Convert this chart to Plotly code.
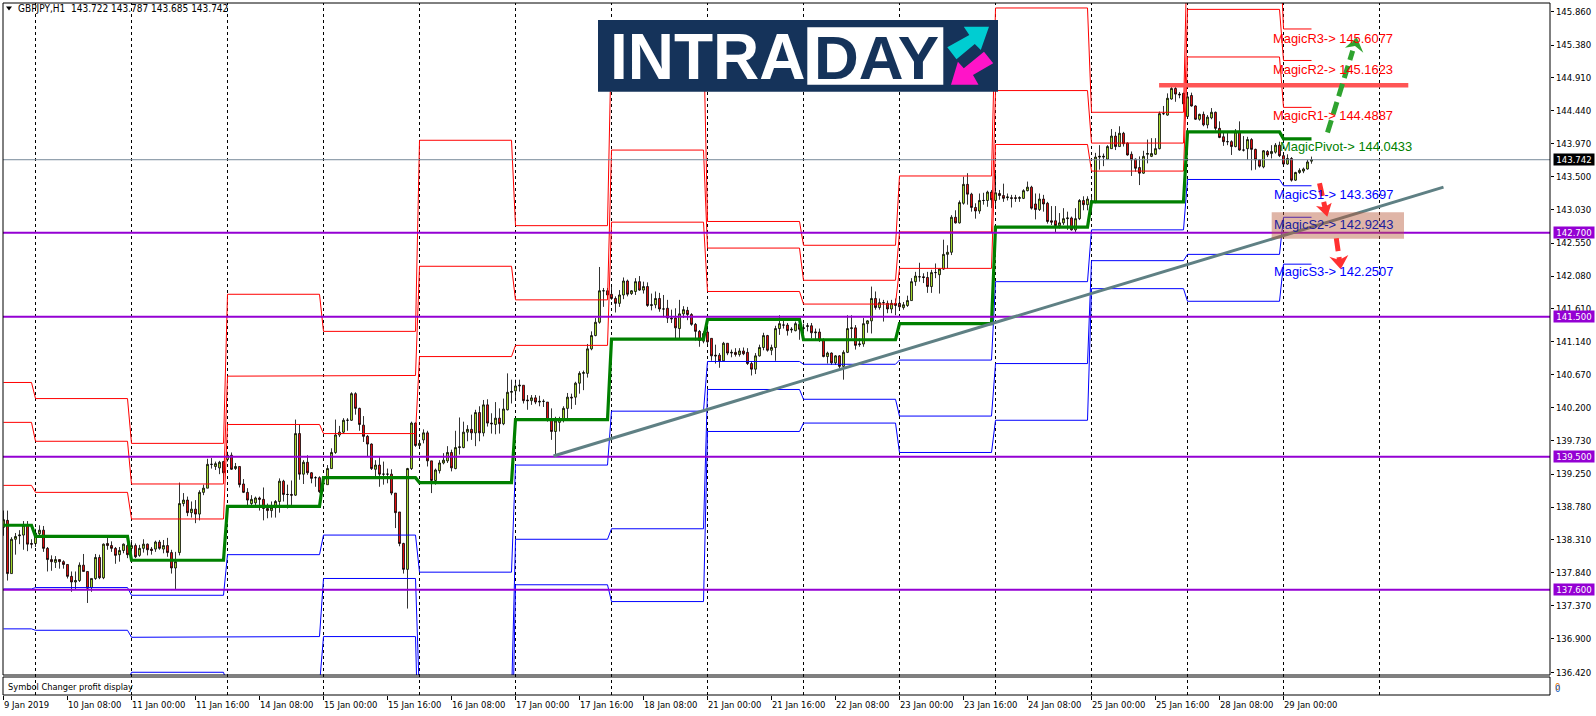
import plotly.graph_objects as go

opens = [138.49,138.59,137.83,138.32,138.37,138.38,138.52,138.26,138.26,138.40,
138.45,138.19,138.03,137.99,138.03,138.00,137.96,137.79,137.71,137.73,
137.95,137.86,137.63,137.76,138.06,137.77,138.26,138.23,138.19,138.10,
138.16,138.23,138.19,138.23,138.09,138.19,138.25,138.18,138.18,138.28,
138.18,138.23,138.13,137.91,138.13,138.83,138.88,138.70,138.75,138.68,
138.99,139.05,139.39,139.36,139.34,139.43,139.46,139.52,139.33,139.36,
139.11,138.99,138.83,138.84,138.91,138.89,138.76,138.73,138.77,138.86,
139.15,138.96,138.96,138.95,139.83,139.25,139.42,139.27,139.20,139.20,
139.11,139.10,139.33,139.56,139.81,139.85,140.02,140.02,140.40,140.19,
139.95,139.79,139.68,139.32,139.38,139.25,139.25,139.25,138.98,138.71,
138.26,137.89,139.33,139.98,139.66,139.74,139.84,139.44,139.16,139.30,
139.41,139.44,139.56,139.33,139.63,139.63,139.85,139.89,139.84,140.13,
139.84,140.24,139.98,139.96,140.05,139.97,140.17,140.42,140.44,140.51,
140.52,140.31,140.30,140.34,140.28,140.29,140.28,140.02,139.86,139.99,
140.02,140.19,140.35,140.35,140.55,140.69,140.69,141.04,141.23,141.42,
141.87,141.87,141.82,141.76,141.69,141.81,142.01,141.83,141.86,142.00,
141.88,141.93,141.66,141.67,141.76,141.61,141.62,141.48,141.48,141.33,
141.54,141.59,141.53,141.39,141.29,141.15,141.28,141.19,140.95,140.95,
140.87,141.12,140.98,140.99,140.96,141.01,140.99,140.83,140.75,140.94,
141.06,141.23,141.02,141.06,141.33,141.38,141.38,141.31,141.30,141.39,
141.33,141.36,141.37,141.27,141.28,141.16,140.93,140.98,140.84,140.94,
140.79,140.99,141.33,141.34,141.10,141.11,141.40,141.44,141.76,141.63,
141.70,141.69,141.61,141.69,141.69,141.63,141.66,141.73,142.00,142.07,
142.07,142.06,141.93,142.13,142.10,142.18,142.39,142.42,142.92,142.84,
143.12,143.39,143.25,143.06,143.01,143.16,143.16,143.28,143.16,143.26,
143.23,143.20,143.20,143.20,143.19,143.19,143.30,143.35,143.11,143.03,
143.18,143.12,142.87,142.87,142.80,142.84,142.90,142.91,142.74,142.90,
143.16,143.10,143.15,143.15,143.78,143.78,143.75,143.90,144.08,143.93,
144.12,143.98,143.82,143.75,143.63,143.55,143.82,143.79,143.82,143.90,
144.40,144.38,144.61,144.76,144.68,144.69,144.36,144.66,144.51,144.32,
144.39,144.24,144.34,144.42,144.19,144.07,144.00,144.00,143.93,144.14,
143.88,143.90,144.03,143.89,143.74,143.64,143.86,143.83,143.85,143.95,
143.80,143.68,143.76,143.45,143.56,143.58,143.61,143.722]

highs = [138.73,138.73,138.35,138.41,138.45,138.58,138.58,138.32,138.47,138.52,
138.51,138.21,138.09,138.08,138.03,138.02,137.96,137.86,137.86,137.99,
138.11,137.86,137.76,138.11,138.10,138.26,138.34,138.29,138.21,138.21,
138.26,138.26,138.31,138.26,138.24,138.32,138.26,138.21,138.30,138.31,
138.31,138.34,138.17,138.14,139.13,138.98,138.93,138.86,138.88,139.02,
139.10,139.47,139.48,139.43,139.44,139.44,139.57,139.56,139.41,139.36,
139.18,139.05,138.95,138.93,138.93,139.06,138.83,138.86,138.88,139.19,
139.17,139.10,139.16,140.03,139.96,139.45,139.52,139.28,139.22,139.22,
139.22,139.38,139.62,140.03,139.94,140.05,140.05,140.42,140.42,140.20,
140.08,139.81,139.69,139.45,139.49,139.43,139.33,139.32,138.98,138.71,
138.27,139.34,140.00,139.99,139.74,139.89,139.87,139.44,139.33,139.45,
139.55,139.65,139.60,139.87,140.06,140.00,139.95,140.10,140.17,140.22,
140.31,140.32,140.12,140.28,140.19,140.33,140.69,140.60,140.60,140.60,
140.52,140.38,140.38,140.38,140.37,140.32,140.28,140.19,140.07,140.07,
140.22,140.41,140.40,140.57,140.72,140.73,141.11,141.29,141.48,142.21,
141.91,141.91,141.93,141.79,141.88,142.06,142.03,141.88,142.05,142.08,
142.00,141.99,141.83,141.86,141.84,141.81,141.74,141.60,141.62,141.74,
141.65,141.64,141.55,141.41,141.31,141.29,141.36,141.19,141.10,140.98,
141.14,141.12,141.03,141.05,141.05,141.06,141.05,140.86,140.98,141.10,
141.27,141.24,141.10,141.37,141.52,141.45,141.41,141.35,141.43,141.43,
141.40,141.41,141.41,141.33,141.33,141.19,141.00,140.99,140.95,140.95,
141.02,141.52,141.52,141.38,141.19,141.48,141.45,141.93,141.86,141.76,
141.74,141.73,141.74,141.76,141.79,141.71,141.80,142.05,142.14,142.27,
142.12,142.14,142.17,142.26,142.19,142.60,142.52,142.95,143.02,143.16,
143.50,143.55,143.27,143.12,143.26,143.27,143.30,143.31,143.55,143.31,
143.40,143.26,143.24,143.24,143.22,143.32,143.43,143.37,143.26,143.26,
143.24,143.14,143.08,143.08,142.98,143.05,143.00,142.93,143.05,143.18,
143.22,143.22,143.24,143.84,143.95,143.83,143.95,144.18,144.14,144.22,
144.14,143.99,143.86,143.76,143.79,143.87,144.03,144.05,144.05,144.43,
144.51,144.69,144.78,144.83,144.71,144.70,144.71,144.70,144.52,144.40,
144.43,144.38,144.48,144.43,144.29,144.14,144.14,144.02,144.18,144.29,
144.08,144.07,144.05,143.90,143.75,143.88,143.88,143.95,143.98,144.00,
143.82,143.82,143.78,143.57,143.62,143.63,143.74,143.787]

lows = [138.37,137.73,137.83,138.10,138.25,138.17,138.15,138.19,138.21,138.36,
138.14,137.86,137.87,137.91,137.90,137.90,137.76,137.57,137.61,137.71,
137.86,137.41,137.57,137.74,137.75,137.75,138.17,138.14,137.97,138.00,
138.12,138.05,138.07,138.05,138.07,138.13,138.09,138.10,138.14,138.17,
138.12,138.07,137.83,137.61,138.09,138.79,138.65,138.63,138.55,138.59,
138.95,139.05,139.33,139.31,139.25,139.12,139.43,139.31,139.31,139.06,
138.98,138.79,138.80,138.80,138.73,138.59,138.62,138.63,138.63,138.70,
138.86,138.76,138.81,138.94,139.17,139.11,139.24,139.12,139.07,138.98,
139.00,139.10,139.33,139.54,139.78,139.83,139.87,140.01,140.10,139.87,
139.71,139.50,139.31,139.19,139.07,139.10,139.12,138.95,138.48,138.22,
137.83,137.33,139.31,139.64,139.62,139.69,139.36,138.98,139.10,139.26,
139.39,139.41,139.29,139.32,139.53,139.62,139.72,139.74,139.65,139.72,
139.79,139.93,139.83,139.82,139.83,139.95,140.16,140.26,140.33,140.43,
140.26,140.17,140.24,140.25,140.22,140.21,140.00,139.74,139.51,139.86,
139.99,140.02,140.18,140.24,140.40,140.45,140.63,141.02,141.22,141.40,
141.64,141.75,141.74,141.56,141.64,141.75,141.79,141.81,141.81,141.87,
141.83,141.64,141.59,141.62,141.57,141.49,141.41,141.41,141.19,141.19,
141.48,141.45,141.37,141.16,141.07,141.12,141.07,140.87,140.83,140.77,
140.86,140.95,140.92,140.93,140.93,140.95,140.81,140.66,140.68,140.93,
141.02,141.00,140.95,140.87,141.24,141.33,141.23,141.27,141.29,141.17,
141.19,141.29,141.19,141.17,141.14,140.92,140.83,140.81,140.81,140.76,
140.60,140.98,141.19,141.03,141.07,141.07,141.27,141.26,141.60,141.60,
141.43,141.55,141.55,141.52,141.60,141.60,141.64,141.73,141.94,142.00,
141.98,141.84,141.84,142.05,141.83,142.17,142.19,142.38,142.83,142.83,
143.10,143.10,143.00,142.90,142.97,143.10,143.07,143.05,143.07,143.17,
143.14,143.16,143.06,143.14,143.14,143.18,143.29,143.03,142.89,143.01,
143.00,142.83,142.81,142.71,142.76,142.81,142.74,142.73,142.71,142.88,
143.02,143.02,142.98,143.12,143.60,143.65,143.74,143.90,143.88,143.93,
143.93,143.80,143.51,143.57,143.38,143.54,143.69,143.78,143.81,143.89,
144.38,144.37,144.60,144.57,144.62,144.46,144.35,144.50,144.31,144.30,
144.22,144.19,144.32,144.16,144.05,143.94,143.95,143.81,143.92,143.87,
143.86,143.74,143.59,143.60,143.63,143.62,143.78,143.76,143.83,143.78,
143.67,143.67,143.43,143.44,143.54,143.55,143.60,143.685]

closes = [138.60,137.83,138.32,138.36,138.38,138.52,138.25,138.25,138.41,138.45,
138.19,138.03,138.00,138.03,138.00,137.96,137.79,137.71,137.73,137.95,
137.86,137.62,137.76,138.06,137.77,138.25,138.23,138.19,138.09,138.16,
138.25,138.10,138.23,138.07,138.19,138.25,138.17,138.16,138.28,138.19,
138.23,138.13,137.91,138.00,138.83,138.88,138.70,138.75,138.68,138.99,
139.05,139.39,139.39,139.40,139.42,139.27,139.52,139.32,139.36,139.10,
138.99,138.88,138.89,138.91,138.89,138.76,138.73,138.77,138.86,139.15,
138.96,138.96,138.95,139.83,139.25,139.42,139.27,139.19,139.20,139.00,
139.12,139.33,139.56,139.81,139.85,140.02,140.02,140.40,140.19,139.96,
139.79,139.68,139.33,139.38,139.25,139.25,139.25,138.98,138.70,138.26,
137.89,139.33,139.98,139.66,139.69,139.84,139.44,139.16,139.31,139.41,
139.45,139.56,139.34,139.63,139.64,139.85,139.89,139.84,140.13,139.84,
140.24,139.98,139.97,140.05,139.97,140.18,140.42,140.43,140.51,140.52,
140.30,140.30,140.34,140.28,140.29,140.29,140.02,139.86,140.01,140.04,
140.19,140.35,140.34,140.55,140.69,140.70,141.04,141.23,141.42,141.87,
141.87,141.81,141.76,141.69,141.81,142.01,141.82,141.87,142.00,141.88,
141.93,141.66,141.67,141.76,141.61,141.61,141.48,141.47,141.34,141.54,
141.60,141.53,141.39,141.29,141.16,141.26,141.14,140.94,140.94,140.87,
141.12,140.98,140.99,140.96,141.01,140.97,140.83,140.75,140.94,141.06,
141.23,141.02,141.06,141.33,141.40,141.38,141.30,141.32,141.40,141.32,
141.34,141.37,141.27,141.28,141.16,140.93,140.98,140.84,140.94,140.79,
140.99,141.33,141.34,141.09,141.11,141.40,141.44,141.76,141.63,141.70,
141.70,141.61,141.69,141.66,141.64,141.67,141.73,142.00,142.08,142.07,
142.06,141.93,142.13,142.13,142.18,142.39,142.42,142.92,142.84,143.13,
143.39,143.25,143.06,143.01,143.16,143.16,143.28,143.17,143.27,143.23,
143.19,143.21,143.19,143.19,143.20,143.30,143.35,143.05,143.03,143.18,
143.11,142.86,142.85,142.80,142.84,142.90,142.91,142.74,142.90,143.16,
143.10,143.18,143.15,143.78,143.79,143.79,143.93,144.08,143.93,144.12,
143.97,143.81,143.74,143.62,143.55,143.79,143.83,143.83,143.90,144.40,
144.40,144.62,144.76,144.68,144.67,144.54,144.64,144.51,144.32,144.39,
144.24,144.35,144.42,144.19,144.06,144.00,144.00,143.93,144.14,143.88,
143.88,144.03,143.89,143.74,143.65,143.87,143.81,143.86,143.95,143.80,
143.68,143.76,143.45,143.56,143.59,143.61,143.71,143.742]

assert len(opens) == len(highs) == len(lows) == len(closes) == 328

seg_starts = [0, 8, 32, 56, 80, 104, 128, 152, 176, 200, 224, 248, 272, 296, 320]
seg_ends = [7, 31, 55, 79, 103, 127, 151, 175, 199, 223, 247, 271, 295, 319, 327]
r3 = [140.56,140.33,139.69,141.82,141.29,144.02,142.80,145.57,142.86,142.52,143.51,145.91,144.42,146.96,145.61]
r2 = [139.99,139.72,139.11,140.65,140.66,142.22,141.74,143.88,142.48,142.02,142.71,144.73,143.98,145.89,145.16]
r1 = [139.09,138.99,138.61,139.96,139.83,140.93,141.09,142.85,141.86,141.68,142.19,143.96,143.58,145.21,144.49]
pivot = [138.52,138.36,138.02,138.79,139.20,139.13,140.03,141.18,141.46,141.17,141.40,142.78,143.14,144.14,144.04]
s1 = [137.61,137.63,137.52,138.10,138.38,137.85,139.38,140.15,140.86,140.82,140.88,142.00,142.74,143.46,143.37]
s2 = [137.04,137.02,136.92,136.93,137.76,136.04,138.32,138.47,140.46,140.32,140.08,140.83,142.30,142.39,142.92]
s3 = [136.10,136.27,136.42,136.24,136.93,134.75,137.67,137.43,139.86,139.98,139.56,140.02,141.90,141.72,142.25]

h_levels = [142.7, 141.5, 139.5, 137.6]
last_price = 143.742
y_ticks = [145.86,145.38,144.91,144.44,143.97,143.5,143.03,142.55,142.08,141.61,141.14,
           140.67,140.2,139.73,139.25,138.78,138.31,137.84,137.37,136.9,136.42]
x_tick_bars = list(range(0, 321, 16))
x_tick_labels = ["9 Jan 2019","10 Jan 08:00","11 Jan 00:00","11 Jan 16:00","14 Jan 08:00","15 Jan 00:00",
                 "15 Jan 16:00","16 Jan 08:00","17 Jan 00:00","17 Jan 16:00","18 Jan 08:00","21 Jan 00:00",
                 "21 Jan 16:00","22 Jan 08:00","23 Jan 00:00","23 Jan 16:00","24 Jan 08:00","25 Jan 00:00",
                 "25 Jan 16:00","28 Jan 08:00","29 Jan 00:00"]
day_bars = list(range(8, 345, 24))
trend_x = [137.5, 360]
trend_y = [139.51, 143.35]
resist_x = [288.9, 351.2]
resist_y = [144.806, 144.806]

magic_labels = [("MagicR3-> 145.6077", 317.2, 145.476, "#FF0000"),
                ("MagicR2-> 145.1623", 317.2, 145.038, "#FF0000"),
                ("MagicR1-> 144.4887", 317.2, 144.367, "#FF0000"),
                ("MagicPivot-> 144.0433", 318.8, 143.924, "#008000"),
                ("MagicS1-> 143.3697", 317.4, 143.248, "#0000FF"),
                ("MagicS2-> 142.9243", 317.4, 142.81, "#201C9C"),
                ("MagicS3-> 142.2507", 317.4, 142.143, "#0000FF")]

W, H = 1596, 716
L, R, T, B = 3, 1550, 3, 695      # plot box in page pixels
MAIN_B = 675
FONT = "DejaVu Sans Condensed, Liberation Sans, sans-serif"


def xp(px):
    return (px - L) / (R - L)


def yp(py):
    return (B - py) / (B - T)


def px_path(pts):
    return "M " + " L ".join(f"{xp(a):.5f},{yp(b):.5f}" for a, b in pts) + " Z"


fig = go.Figure()
fig.add_trace(go.Candlestick(
    x=list(range(len(opens))), open=opens, high=highs, low=lows, close=closes,
    whiskerwidth=0,
    increasing=dict(line=dict(color="#000000", width=0.8), fillcolor="#A8E030"),
    decreasing=dict(line=dict(color="#000000", width=0.8), fillcolor="#E81010"),
    showlegend=False, hoverinfo="skip"))


def step_line(levels, color, width):
    xs, ys = [], []
    for s, e, v in zip(seg_starts, seg_ends, levels):
        xs += [s, e]
        ys += [v, v]
    fig.add_trace(go.Scatter(x=xs, y=ys, mode="lines", line=dict(color=color, width=width),
                             showlegend=False, hoverinfo="skip"))


for lv in (r3, r2, r1):
    step_line(lv, "#FF0000", 1)
for lv in (s1, s2, s3):
    step_line(lv, "#0000FF", 1)
step_line(pivot, "#008000", 3.2)

x_full = [-0.125, 386.625]
fig.add_trace(go.Scatter(x=x_full, y=[last_price] * 2, mode="lines",
                         line=dict(color="#778899", width=1), showlegend=False, hoverinfo="skip"))
for lv in h_levels:
    fig.add_trace(go.Scatter(x=x_full, y=[lv] * 2, mode="lines",
                             line=dict(color="#9400D3", width=2), showlegend=False, hoverinfo="skip"))
fig.add_trace(go.Scatter(x=trend_x, y=trend_y, mode="lines",
                         line=dict(color="#5F8084", width=3), showlegend=False, hoverinfo="skip"))
fig.add_trace(go.Scatter(x=resist_x, y=resist_y, mode="lines",
                         line=dict(color="#FF5555", width=4.5), showlegend=False, hoverinfo="skip"))

shapes = []
# day separators
for b in day_bars:
    shapes.append(dict(type="line", xref="x", yref="paper", x0=b, x1=b, y0=0, y1=1, layer="below",
                       line=dict(color="#000000", width=1, dash="3px,3px")))
# frames
shapes.append(dict(type="rect", xref="paper", yref="paper", x0=0, x1=1, y0=yp(MAIN_B), y1=1,
                   line=dict(color="#000000", width=1), layer="above"))
shapes.append(dict(type="rect", xref="paper", yref="paper", x0=0, x1=1, y0=0, y1=yp(677),
                   line=dict(color="#000000", width=1), layer="above"))
# zone box
shapes.append(dict(type="rect", xref="paper", yref="paper", x0=xp(1271.7), x1=xp(1404), y0=yp(238.7), y1=yp(212.3),
                   line=dict(width=0), fillcolor="rgba(185,90,60,0.45)", layer="above"))
# forecast arrows: dashed shafts
GREEN_ARROW = "#2FA32F"
RED_ARROW = "#FF3030"
shapes.append(dict(type="line", xref="x", yref="y", x0=331, y0=144.13, x1=337.3, y1=145.30,
                   line=dict(color=GREEN_ARROW, width=5, dash="13px,6px"), layer="above"))
shapes.append(dict(type="line", xref="x", yref="y", x0=329, y0=143.405, x1=330.6, y1=143.0,
                   line=dict(color=RED_ARROW, width=5, dash="13px,6px"), layer="above"))
shapes.append(dict(type="line", xref="x", yref="y", x0=333.2, y0=142.62, x1=334.0, y1=142.30,
                   line=dict(color=RED_ARROW, width=5, dash="13px,6px"), layer="above"))
# forecast arrows: filled heads
shapes.append(dict(type="path", xref="paper", yref="paper", layer="above", fillcolor=GREEN_ARROW, line=dict(width=0),
                   path=px_path([(1345,47.7),(1356.7,37.3),(1363.3,52.7),(1355,46)])))
shapes.append(dict(type="path", xref="paper", yref="paper", layer="above", fillcolor=RED_ARROW, line=dict(width=0),
                   path=px_path([(1316,206),(1324.3,207.3),(1331.7,202.7),(1327.3,216.7)])))
shapes.append(dict(type="path", xref="paper", yref="paper", layer="above", fillcolor=RED_ARROW, line=dict(width=0),
                   path=px_path([(1329.3,256.7),(1339.3,260),(1348.3,255),(1340.7,269.3)])))
# logo
shapes.append(dict(type="rect", xref="paper", yref="paper", x0=xp(598), x1=xp(998), y0=yp(91.7), y1=yp(20),
                   line=dict(width=0), fillcolor="#15335A", layer="above"))
shapes.append(dict(type="rect", xref="paper", yref="paper", x0=xp(807.3), x1=xp(943.3), y0=yp(84.7), y1=yp(27.3),
                   line=dict(width=0), fillcolor="#FFFFFF", layer="above"))
shapes.append(dict(type="path", xref="paper", yref="paper", layer="above", fillcolor="#00CDD2", line=dict(width=0),
                   path=px_path([(947.3,47.3),(969.3,35),(963.8,26.7),(989,26.7),(980.8,50),(974.8,44),(956.5,59.3)])))
shapes.append(dict(type="path", xref="paper", yref="paper", layer="above", fillcolor="#FF14C8", line=dict(width=0),
                   path=px_path([(984,51.7),(993.2,63.3),(973,75),(978.5,84.7),(951,84.7),(957.9,61.7),(963.8,68.3)])))
# header triangle
shapes.append(dict(type="path", xref="paper", yref="paper", layer="above", fillcolor="#000000", line=dict(width=0),
                   path=px_path([(6,6.5),(12,6.5),(9,10.5)])))

ann = []
def text(px, py, s, color="#000000", size=9.4, anchor="left", family=FONT, **kw):
    ann.append(dict(xref="paper", yref="paper", x=xp(px), y=yp(py), text=s, showarrow=False,
                    xanchor=anchor, yanchor="middle", font=dict(family=family, size=size, color=color),
                    borderpad=0, **kw))

text(17, 8.5, f"GBPJPY,H1  {opens[-1]:.3f} {highs[-1]:.3f} {lows[-1]:.3f} {closes[-1]:.3f}", size=10)
text(7, 686, "Symbol Changer profit display", size=9.2)
text(1554, 686, "0", color="#E07000")
text(1554, 688, "0", color="#1060C0")
for b, s in zip(x_tick_bars, x_tick_labels):
    text(3.5 + 4 * b - 0.5, 704, s)
for s, x, y, c in magic_labels:
    ann.append(dict(xref="x", yref="y", x=x, y=y, text=s, showarrow=False, xanchor="left", yanchor="middle",
                    font=dict(family="Liberation Sans", size=12.9, color=c), borderpad=0))
# price boxes
for lv in h_levels:
    ann.append(dict(xref="paper", yref="y", x=xp(1552.5), y=lv, text=f"{lv:.3f}", showarrow=False,
                    xanchor="left", yanchor="middle", width=40, height=10.5, align="center", bgcolor="#9400D3",
                    font=dict(family=FONT, size=9.5, color="#FFFFFF"), borderpad=0))
ann.append(dict(xref="paper", yref="y", x=xp(1552.5), y=last_price, text=f"{last_price:.3f}", showarrow=False,
                xanchor="left", yanchor="middle", width=40, height=10.5, align="center", bgcolor="#000000",
                font=dict(family=FONT, size=9.5, color="#FFFFFF"), borderpad=0))
# logo text
text(609, 57, "<b>INTRA</b>", color="#FFFFFF", size=64, family="Liberation Sans")
text(876, 57, "<b>DAY</b>", color="#15335A", size=62, anchor="center", family="Liberation Sans")

fig.update_layout(
    width=W, height=H, autosize=False,
    margin=dict(l=L, r=W - R, t=T, b=H - B, pad=0),
    paper_bgcolor="#FFFFFF", plot_bgcolor="#FFFFFF",
    showlegend=False, boxgap=0.3,
    shapes=shapes, annotations=ann,
    xaxis=dict(range=x_full, rangeslider=dict(visible=False), showgrid=False, zeroline=False,
               tickmode="array", tickvals=x_tick_bars, ticktext=[""] * len(x_tick_bars),
               ticks="outside", ticklen=4, tickcolor="#000000", tickwidth=1, showline=False,
               anchor="free", position=0),
    yaxis=dict(domain=[(B - MAIN_B) / (B - T), 1], range=[136.381, 145.981], side="right", showgrid=False,
               zeroline=False, tickmode="array", tickvals=y_ticks, ticktext=[f"{v:.3f}" for v in y_ticks],
               ticks="outside", ticklen=3, tickcolor="#000000", tickwidth=1, showline=False,
               tickfont=dict(family=FONT, size=9.5, color="#000000"), anchor="x"),
)

fig.write_html("out.html", config=dict(displayModeBar=False),
               post_script="document.body.style.margin='0';document.documentElement.style.overflow='hidden';")
